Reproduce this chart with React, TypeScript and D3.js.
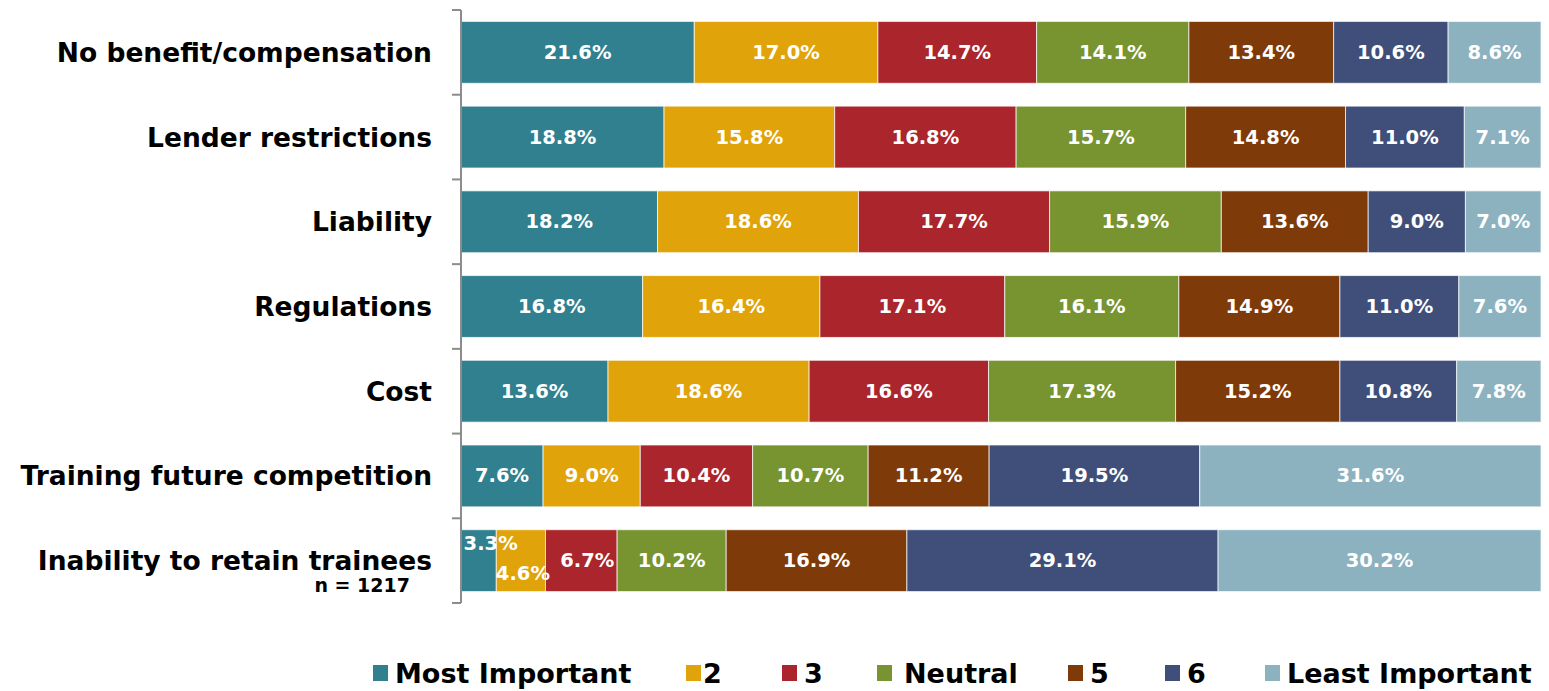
import { scaleBand, scaleLinear, scaleOrdinal, stack, stackOffsetExpand } from 'd3'
import { useMemo } from 'react'

const categories = [
  'No benefit/compensation',
  'Lender restrictions',
  'Liability',
  'Regulations',
  'Cost',
  'Training future competition',
  'Inability to retain trainees',
]

const seriesNames = ['Most Important', '2', '3', 'Neutral', '5', '6', 'Least Important']
const seriesColors = ['#31808F', '#E0A30A', '#AA252C', '#779430', '#7F3A0A', '#3F4F7A', '#8CB2C0']

const mostImportant = [21.6, 18.8, 18.2, 16.8, 13.6, 7.6, 3.3]
const rank2 = [17.0, 15.8, 18.6, 16.4, 18.6, 9.0, 4.6]
const rank3 = [14.7, 16.8, 17.7, 17.1, 16.6, 10.4, 6.7]
const neutral = [14.1, 15.7, 15.9, 16.1, 17.3, 10.7, 10.2]
const rank5 = [13.4, 14.8, 13.6, 14.9, 15.2, 11.2, 16.9]
const rank6 = [10.6, 11.0, 9.0, 11.0, 10.8, 19.5, 29.1]
const leastImportant = [8.6, 7.1, 7.0, 7.6, 7.8, 31.6, 30.2]

const seriesValues = [mostImportant, rank2, rank3, neutral, rank5, rank6, leastImportant]

const sampleNote = 'n = 1217'

const FONT = '"DejaVu Sans", Lato, sans-serif'

export default function App() {
  const width = 1549
  const height = 691
  const margin = { left: 461, right: 8, top: 10, bottom: 88 }

  const rows = useMemo(
    () =>
      categories.map((c, i) => {
        const row: Record<string, any> = { category: c }
        seriesNames.forEach((s, j) => (row[s] = seriesValues[j][i]))
        return row
      }),
    []
  )

  const stacked = useMemo(() => stack<any>().keys(seriesNames).offset(stackOffsetExpand)(rows), [rows])

  const x = scaleLinear().domain([0, 1]).range([margin.left, width - margin.right])
  const y = scaleBand().domain(categories).range([margin.top, height - margin.bottom]).paddingInner(0.27).paddingOuter(0.135)
  const color = scaleOrdinal<string, string>().domain(seriesNames).range(seriesColors)

  // tick positions sit on band boundaries
  const step = y.step()
  const ticks = categories.map((_, i) => margin.top + i * step).concat([margin.top + categories.length * step])

  // small labels in the last row are nudged like the original
  const labelNudge: Record<string, [number, number]> = {
    'Inability to retain trainees|Most Important': [12, -17],
    'Inability to retain trainees|2': [2, 13],
    'Inability to retain trainees|3': [6, 0],
  }

  const legendX = [373, 686, 782, 877, 1068, 1165, 1265]
  const legendGap = [22, 17, 22, 27, 22, 22, 22]

  return (
    <svg width={width} height={height} style={{ display: 'block', position: 'absolute', left: 0, top: 0 }}>
      <rect width={width} height={height} fill="#fff" />
      {stacked.map((layer) => (
        <g key={layer.key} fill={color(layer.key)}>
          {layer.map((d) => (
            <rect
              key={d.data.category}
              x={x(d[0])}
              y={y(d.data.category)}
              width={x(d[1]) - x(d[0])}
              height={y.bandwidth()}
              stroke="#ffffff"
              strokeOpacity={0.7}
              strokeWidth={1}
            />
          ))}
        </g>
      ))}
      {stacked.map((layer) =>
        layer.map((d) => {
          const nudge = labelNudge[d.data.category + '|' + layer.key] || [0, 0]
          return (
            <text
              key={layer.key + d.data.category}
              x={(x(d[0]) + x(d[1])) / 2 + nudge[0]}
              y={(y(d.data.category) as number) + y.bandwidth() / 2 + nudge[1]}
              textAnchor="middle"
              dominantBaseline="central"
              fill="#fff"
              fontFamily={FONT}
              fontWeight={700}
              fontSize={19.5}
            >
              {d.data[layer.key].toFixed(1)}%
            </text>
          )
        })
      )}
      {/* category axis */}
      <g stroke="#8c8c8c" strokeWidth={2}>
        <line x1={margin.left} x2={margin.left} y1={ticks[0]} y2={ticks[ticks.length - 1]} />
        {ticks.map((t) => (
          <line key={t} x1={margin.left - 9} x2={margin.left} y1={t} y2={t} />
        ))}
      </g>
      {categories.map((c) => (
        <text
          key={c}
          x={432}
          y={(y(c) as number) + y.bandwidth() / 2}
          textAnchor="end"
          dominantBaseline="central"
          fontFamily={FONT}
          fontWeight={700}
          fontSize={26.5}
          fill="#000"
        >
          {c}
        </text>
      ))}
      <text x={410} y={585} textAnchor="end" dominantBaseline="central" fontFamily={FONT} fontWeight={700} fontSize={19} fill="#000">
        {sampleNote}
      </text>
      {/* legend */}
      {seriesNames.map((s, i) => (
        <g key={s} transform={`translate(${legendX[i]},673)`}>
          <rect x={0} y={-8} width={15} height={16} fill={color(s)} />
          <text x={legendGap[i]} y={0} dominantBaseline="central" fontFamily={FONT} fontWeight={700} fontSize={27} fill="#000">
            {s}
          </text>
        </g>
      ))}
    </svg>
  )
}
